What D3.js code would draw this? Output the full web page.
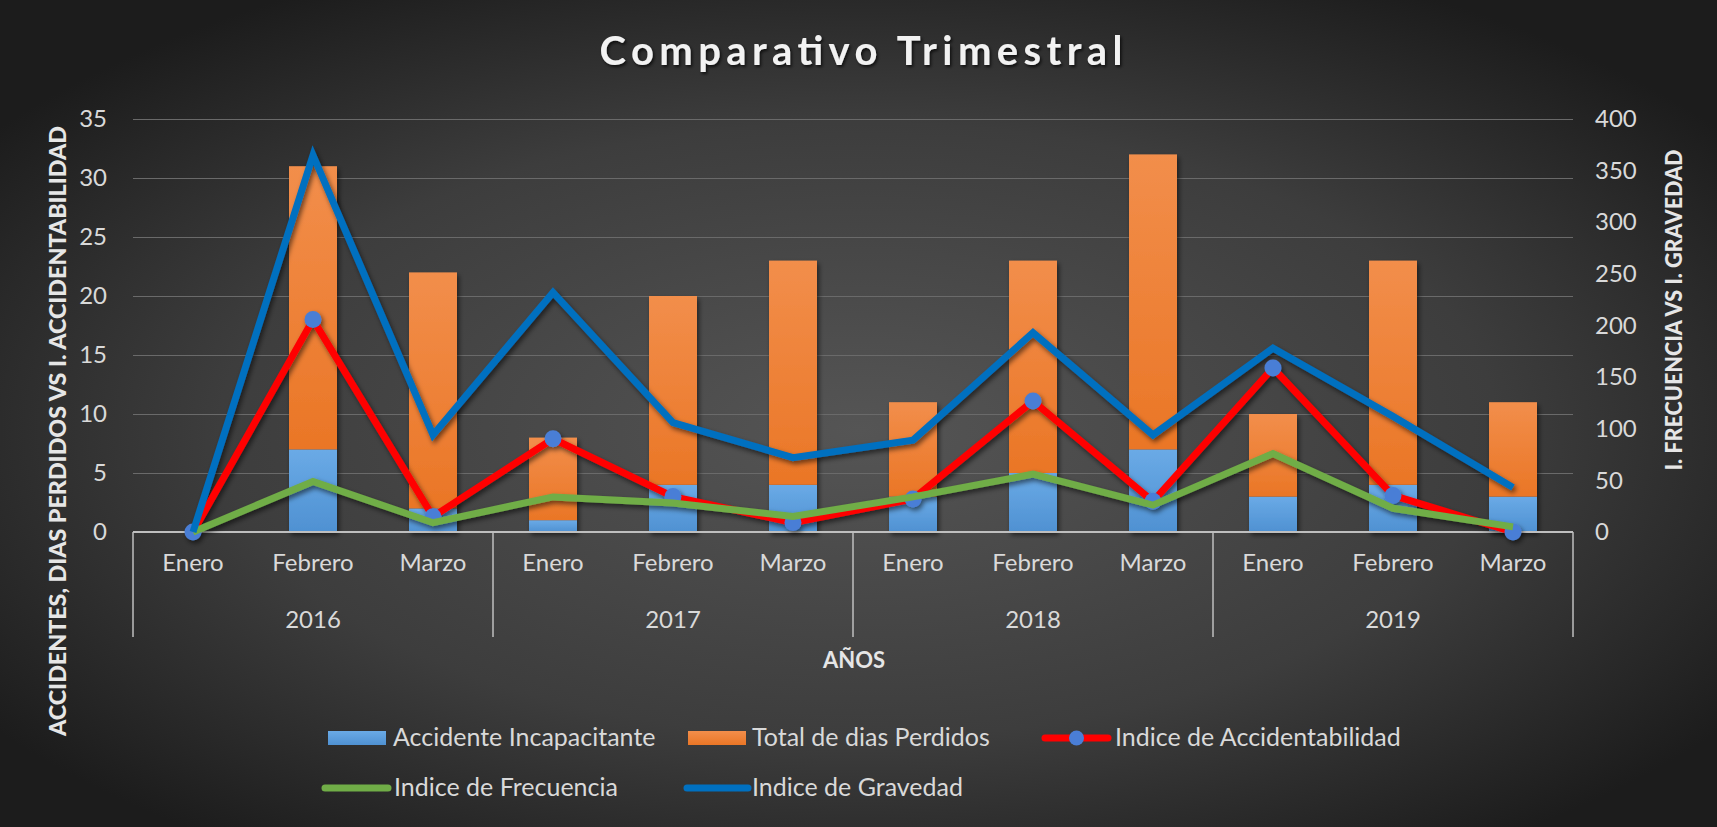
<!DOCTYPE html>
<html>
<head>
<meta charset="utf-8">
<script src="https://cdn.jsdelivr.net/npm/d3@7"></script>
<style>
  html, body { margin: 0; padding: 0; background: #2a2a2a; }
  svg { display: block; }
  text { font-family: Lato, "Open Sans", sans-serif; }
</style>
</head>
<body>
<svg id="chart" width="1717" height="827"></svg>
<script>
// ---------------- DATA ----------------
const months = ["Enero", "Febrero", "Marzo", "Enero", "Febrero", "Marzo", "Enero", "Febrero", "Marzo", "Enero", "Febrero", "Marzo"];
const years = ["2016", "2017", "2018", "2019"];
const accidenteIncapacitante = [0, 7, 2, 1, 4, 4, 3, 5, 7, 3, 4, 3];
const diasPerdidos = [0, 24, 20, 7, 16, 19, 8, 18, 25, 7, 19, 8]; // stacked on top of accidents
const indiceAccidentabilidad = [0, 18, 1.3, 7.9, 3, 0.8, 2.8, 11.1, 2.6, 13.9, 3.1, 0];
const indiceFrecuencia = [0, 49, 9, 34, 28, 15, 34, 56, 26, 76, 23, 5];
const indiceGravedad = [0, 365, 94, 232, 106, 72, 89, 193, 94, 178, 112, 43];
const leftTicks = [0, 5, 10, 15, 20, 25, 30, 35];
const rightTicks = [0, 50, 100, 150, 200, 250, 300, 350, 400];
const legendLabels = ["Accidente Incapacitante", "Total de dias Perdidos", "Indice de Accidentabilidad", "Indice de Frecuencia", "Indice de Gravedad"];
const titleText = "Comparativo Trimestral";
const leftTitle = "ACCIDENTES, DIAS PERDIDOS VS I. ACCIDENTABILIDAD";
const rightTitle = "I. FRECUENCIA VS I. GRAVEDAD";
const xTitle = "AÑOS";

// ---------------- SETUP ----------------
const W = 1717, H = 827;
const plot = { left: 133, right: 1573, top: 119, bottom: 532 };
const FS = "24px";
const svg = d3.select("#chart");
const defs = svg.append("defs");

const bg = defs.append("radialGradient").attr("id", "bg")
  .attr("cx", "50%").attr("cy", "52%").attr("r", "62%");
bg.append("stop").attr("offset", "0%").attr("stop-color", "#555555");
bg.append("stop").attr("offset", "60%").attr("stop-color", "#3d3d3d");
bg.append("stop").attr("offset", "100%").attr("stop-color", "#1c1c1c");

const gBlue = defs.append("linearGradient").attr("id", "gBlue").attr("x1", 0).attr("y1", 0).attr("x2", 0).attr("y2", 1);
gBlue.append("stop").attr("offset", "0%").attr("stop-color", "#6aaae6");
gBlue.append("stop").attr("offset", "100%").attr("stop-color", "#4f91d2");
const gOrange = defs.append("linearGradient").attr("id", "gOrange").attr("x1", 0).attr("y1", 0).attr("x2", 0).attr("y2", 1);
gOrange.append("stop").attr("offset", "0%").attr("stop-color", "#f28e4b");
gOrange.append("stop").attr("offset", "100%").attr("stop-color", "#ea7626");

const sh = defs.append("filter").attr("id", "shadow").attr("x", "-20%").attr("y", "-20%").attr("width", "140%").attr("height", "140%");
sh.append("feDropShadow").attr("dx", 2).attr("dy", 3).attr("stdDeviation", 2.5).attr("flood-color", "#000").attr("flood-opacity", 0.55);
const tsh = defs.append("filter").attr("id", "tshadow").attr("x", "-10%").attr("y", "-30%").attr("width", "120%").attr("height", "160%");
tsh.append("feDropShadow").attr("dx", 1.5).attr("dy", 2).attr("stdDeviation", 1.5).attr("flood-color", "#000").attr("flood-opacity", 0.7);

svg.append("rect").attr("width", W).attr("height", H).attr("fill", "url(#bg)");

// scales
const idx = d3.range(months.length);
const x = d3.scaleBand().domain(idx).range([plot.left, plot.right]).paddingInner(0.6).paddingOuter(0.3);
const cx = i => x(i) + x.bandwidth() / 2;
const yL = d3.scaleLinear().domain([0, 35]).range([plot.bottom, plot.top]);
const yR = d3.scaleLinear().domain([0, 400]).range([plot.bottom, plot.top]);

// gridlines
const grid = svg.append("g").attr("transform", `translate(${plot.left},0)`)
  .call(d3.axisLeft(yL).tickValues(leftTicks).tickSize(-(plot.right - plot.left)).tickFormat(""));
grid.select(".domain").remove();
grid.selectAll("line").attr("stroke", "#6a6a6a").attr("stroke-width", 1)
  .filter(d => d === 0).remove();

// left axis labels
const ax = svg.append("g").attr("transform", `translate(${plot.left},0)`)
  .call(d3.axisLeft(yL).tickValues(leftTicks).tickSize(0).tickPadding(26));
ax.select(".domain").remove();
ax.selectAll("text").attr("fill", "#d9d9d9").style("font-size", FS).style("font-family", "Lato, sans-serif");

// right axis labels
const axR = svg.append("g").attr("transform", `translate(${plot.right},0)`)
  .call(d3.axisRight(yR).tickValues(rightTicks).tickSize(0).tickPadding(22));
axR.select(".domain").remove();
axR.selectAll("text").attr("fill", "#d9d9d9").style("font-size", FS).style("font-family", "Lato, sans-serif");

// bars (stacked)
const stackData = idx.map(i => ({ i, a: accidenteIncapacitante[i], d: diasPerdidos[i] }));
const series = d3.stack().keys(["a", "d"])(stackData);
const barColors = ["url(#gBlue)", "url(#gOrange)"];
const barsG = svg.append("g").attr("filter", "url(#shadow)");
series.forEach((s, k) => {
  barsG.selectAll(null).data(s).join("rect")
    .attr("x", d => x(d.data.i))
    .attr("width", x.bandwidth())
    .attr("y", d => yL(d[1]))
    .attr("height", d => Math.max(0, yL(d[0]) - yL(d[1])))
    .attr("fill", barColors[k]);
});

// x axis
const xAxis = svg.append("g").attr("transform", `translate(0,${plot.bottom})`)
  .call(d3.axisBottom(x).tickSize(0).tickPadding(22).tickFormat(i => months[i]));
xAxis.select(".domain").attr("stroke", "#bfbfbf").attr("stroke-width", 2)
  .attr("d", `M${plot.left},0H${plot.right}`);
xAxis.selectAll("text").attr("fill", "#d9d9d9").style("font-size", FS).style("font-family", "Lato, sans-serif");

// year groups
const groupW = (plot.right - plot.left) / years.length;
const yearG = svg.append("g");
yearG.selectAll("line").data(d3.range(years.length + 1)).join("line")
  .attr("x1", j => plot.left + j * groupW).attr("x2", j => plot.left + j * groupW)
  .attr("y1", plot.bottom).attr("y2", 637)
  .attr("stroke", "#bfbfbf").attr("stroke-width", 1.5);
yearG.selectAll("text").data(years).join("text")
  .attr("x", (d, j) => (cx(j * 3) + cx(j * 3 + 2)) / 2)
  .attr("y", 628)
  .attr("text-anchor", "middle").attr("fill", "#d9d9d9")
  .style("font-size", FS).text(d => d);

// lines
const lineL = d3.line().x((d, i) => cx(i)).y(d => yL(d));
const lineR = d3.line().x((d, i) => cx(i)).y(d => yR(d));
const linesG = svg.append("g").attr("filter", "url(#shadow)");
linesG.append("path").datum(indiceAccidentabilidad).attr("d", lineL)
  .attr("fill", "none").attr("stroke", "#ff0000").attr("stroke-width", 7).attr("stroke-linejoin", "miter");
linesG.selectAll("circle").data(indiceAccidentabilidad).join("circle")
  .attr("cx", (d, i) => cx(i)).attr("cy", d => yL(d)).attr("r", 8.5)
  .attr("fill", "#4a7ed6");
linesG.append("path").datum(indiceFrecuencia).attr("d", lineR)
  .attr("fill", "none").attr("stroke", "#70ad47").attr("stroke-width", 7).attr("stroke-linejoin", "miter");
linesG.append("path").datum(indiceGravedad).attr("d", lineR)
  .attr("fill", "none").attr("stroke", "#0070c0").attr("stroke-width", 7).attr("stroke-linejoin", "miter");

// titles
svg.append("text").attr("x", 861).attr("y", 65).attr("text-anchor", "middle")
  .attr("fill", "#f2f2f2").attr("filter", "url(#tshadow)")
  .attr("textLength", 523).attr("lengthAdjust", "spacing")
  .style("font-size", "40px").style("font-weight", "bold").text(titleText);

svg.append("text").attr("transform", "translate(66,431) rotate(-90)")
  .attr("text-anchor", "middle").attr("fill", "#e6e6e6")
  .attr("textLength", 610).attr("lengthAdjust", "spacingAndGlyphs")
  .style("font-size", "23px").style("font-weight", "900").text(leftTitle);

svg.append("text").attr("transform", "translate(1682,310) rotate(-90)")
  .attr("text-anchor", "middle").attr("fill", "#e6e6e6")
  .attr("textLength", 321).attr("lengthAdjust", "spacingAndGlyphs")
  .style("font-size", "23px").style("font-weight", "900").text(rightTitle);

svg.append("text").attr("x", 854).attr("y", 668).attr("text-anchor", "middle")
  .attr("fill", "#e6e6e6").style("font-size", "22px").style("font-weight", "bold").text(xTitle);

// legend
const legendItems = [
  { label: legendLabels[0], type: "bar", color: "url(#gBlue)", sx: 328, sw: 58, tx: 393, y: 738 },
  { label: legendLabels[1], type: "bar", color: "url(#gOrange)", sx: 688, sw: 58, tx: 752, y: 738 },
  { label: legendLabels[2], type: "marker", color: "#ff0000", sx: 1045, sw: 63, tx: 1115, y: 738 },
  { label: legendLabels[3], type: "line", color: "#70ad47", sx: 325, sw: 63, tx: 394, y: 788 },
  { label: legendLabels[4], type: "line", color: "#0070c0", sx: 687, sw: 61, tx: 752, y: 788 }
];
const lg = svg.append("g");
legendItems.forEach(it => {
  const g = lg.append("g");
  if (it.type === "bar") {
    g.append("rect").attr("x", it.sx).attr("y", it.y - 7).attr("width", it.sw).attr("height", 14).attr("fill", it.color);
  } else {
    g.append("line").attr("x1", it.sx).attr("x2", it.sx + it.sw).attr("y1", it.y).attr("y2", it.y)
      .attr("stroke", it.color).attr("stroke-width", 7).attr("stroke-linecap", "round");
    if (it.type === "marker") {
      g.append("circle").attr("cx", it.sx + it.sw / 2).attr("cy", it.y).attr("r", 7.5).attr("fill", "#4a7ed6");
    }
  }
  g.append("text").attr("x", it.tx).attr("y", it.y + 8).attr("fill", "#d9d9d9")
    .style("font-size", "25px").text(it.label);
});
</script>
</body>
</html>
